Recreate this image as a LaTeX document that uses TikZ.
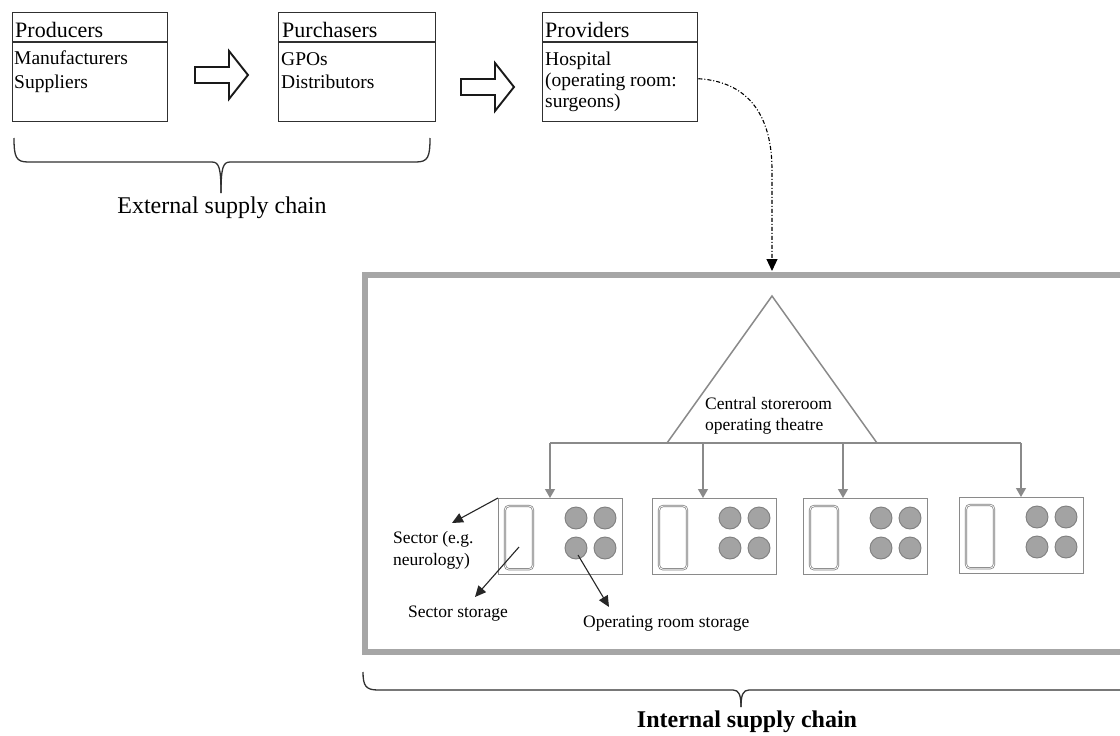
\documentclass[tikz,border=0pt]{standalone}
\usepackage{fontspec}
\setmainfont{Liberation Serif}
\usetikzlibrary{arrows.meta}
\definecolor{lgray}{HTML}{8A8A8A}
\definecolor{fgray}{HTML}{A6A6A6}
\definecolor{cfill}{HTML}{A3A3A3}
\definecolor{cdraw}{HTML}{7F7F7F}
\definecolor{dk}{HTML}{303030}
\begin{document}
\begin{tikzpicture}[x=1pt,y=-1pt,
  hdrbox/.style={draw=dk, line width=1.4pt, minimum width=155pt, minimum height=109pt, anchor=north west, inner sep=0pt},
  ttl/.style={font=\fontsize{22}{26}\selectfont, anchor=base west, inner sep=0pt},
  itm/.style={font=\fontsize{19.5}{23}\selectfont, anchor=base west, inner sep=0pt},
  lbl/.style={font=\fontsize{17.5}{21}\selectfont, anchor=base west, inner sep=0pt},
  bigtxt/.style={font=\fontsize{24}{28}\selectfont, anchor=base, inner sep=0pt},
  blockarrow/.style={draw=black!90, line width=1.9pt, fill=white, line join=miter},
  sectorbox/.style={draw=lgray, line width=1.3pt, minimum width=124pt, minimum height=76pt, anchor=north west, inner sep=0pt},
  storage/.style={draw=cdraw, double=white, line width=0.7pt, double distance=0.8pt, rounded corners=4pt},
  orroom/.style={fill=cfill, draw=cdraw, line width=0.9pt},
  feed/.style={draw=lgray, line width=1.2pt, -{Triangle[width=10pt,length=9pt]}},
  lblarrow/.style={draw=black!85, line width=1.1pt, -{Triangle[width=10pt,length=11pt]}},
  brace/.style={draw=dk, line width=1.3pt},
  flow/.style={draw=black, line width=1.1pt, dash pattern=on 4pt off 2pt on 1pt off 2pt, -{Triangle[width=11pt,length=12pt]}}
]
\useasboundingbox (0,0) rectangle (1120,736);
\fill[white] (0,0) rectangle (1120,736);

% ---- external chain boxes
\node[hdrbox] (prod) at (12,12) {};
\node[hdrbox, minimum width=157pt] (purch) at (278,12) {};
\node[hdrbox] (prov) at (542,12) {};
\foreach \b in {prod,purch,prov}
  \draw[draw=dk, line width=1.4pt] ([yshift=-30pt]\b.north west) -- ([yshift=-30pt]\b.north east);

\node[ttl] (prodT) at (15,37) {Producers};
\node[itm] (prod1) at (14,64) {Manufacturers};
\node[itm] (prod2) at (14,88) {Suppliers};

\node[ttl] (purchT) at (282,37) {Purchasers};
\node[itm] (purch1) at (281,65) {GPOs};
\node[itm] (purch2) at (281,88) {Distributors};

\node[ttl] (provT) at (545,37) {Providers};
\node[itm] (prov1) at (545,65) {Hospital};
\node[itm] (prov2) at (545,86) {(operating room:};
\node[itm] (prov3) at (545,107) {surgeons)};

% ---- block arrows
\draw[blockarrow] (195,67) -- (229,67) -- (229,51) -- (248,75) -- (229,99) -- (229,83) -- (195,83) -- cycle;
\draw[blockarrow] (461,79) -- (495,79) -- (495,63) -- (514,87) -- (495,111) -- (495,95) -- (461,95) -- cycle;

% ---- external brace
\draw[brace] (14,138) .. controls (14,157) and (16,162) .. (28,162) -- (212,162)
  .. controls (219,162) and (221,168) .. (221,193);
\draw[brace] (221,193) .. controls (221,168) and (223,162) .. (230,162) -- (416,162)
  .. controls (428,162) and (430,157) .. (430,138);
\node[bigtxt] (extT) at (222,213) {External supply chain};

% ---- internal frame
\draw[draw=fgray, line width=6pt] (365,275) rectangle (1135,652);

% ---- flow from providers
\coordinate (flowEnd) at (772,271);
\draw[flow] ([yshift=-11.5pt]prov.east) .. controls (752,82) and (772,120) .. (772,170) -- (flowEnd);

% ---- central storeroom
\coordinate (apex) at (772,296);
\coordinate (baseR) at (877,443);
\coordinate (baseL) at (667,443);
\draw[draw=lgray, line width=1.5pt, line join=miter] (apex) -- (baseR) -- (baseL) -- cycle;
\node[lbl] (cen1) at (705,409) {Central storeroom};
\node[lbl] (cen2) at (705,430) {operating theatre};

% ---- sector boxes
\node[sectorbox] (s1) at (498,498) {};
\node[sectorbox] (s2) at (652,498) {};
\node[sectorbox] (s3) at (803,498) {};
\node[sectorbox] (s4) at (959,497) {};
\foreach \s in {s1,s2,s3,s4}{
  \draw[storage] ([shift={(7,8)}]\s.north west) rectangle ([shift={(35,-6)}]\s.south west);
  \foreach \dx in {78,107}
    \foreach \dy in {20,50}
      \draw[orroom] ([shift={(\dx,\dy)}]\s.north west) circle[radius=11pt];
}

% ---- distribution lines
\coordinate (b1) at (550,443);
\coordinate (b2) at (703,443);
\coordinate (b3) at (843,443);
\coordinate (b4) at (1021,443);
\draw[draw=lgray, line width=1.2pt] (b1) -- (b4);
\draw[feed] (b1) -- (b1 |- s1.north);
\draw[feed] (b2) -- (b2 |- s2.north);
\draw[feed] (b3) -- (b3 |- s3.north);
\draw[feed] (b4) -- (b4 |- s4.north);

% ---- labels
\node[lbl] (sec1) at (393,543) {Sector (e.g.};
\node[lbl] (sec2) at (393,565) {neurology)};
\node[lbl] (secst) at (408,617) {Sector storage};
\node[lbl] (orst) at (583,627) {Operating room storage};
\coordinate (secTip) at (452,523);
\coordinate (secstTip) at (475,597);
\coordinate (orstTip) at (609,607);
\draw[lblarrow] (s1.north west) -- (secTip);
\draw[lblarrow] ([shift={(21,49)}]s1.north west) -- (secstTip);
\draw[lblarrow] ([shift={(80,57)}]s1.north west) -- (orstTip);

% ---- internal brace
\draw[brace] (363,672) .. controls (363,686) and (366,690) .. (378,690) -- (733,690)
  .. controls (739,690) and (741,695) .. (741,707);
\draw[brace] (741,707) .. controls (741,695) and (743,690) .. (749,690) -- (1135,690);
\node[bigtxt, font=\fontsize{24}{28}\selectfont\bfseries] (intT) at (747,727) {Internal supply chain};
\end{tikzpicture}
\end{document}
